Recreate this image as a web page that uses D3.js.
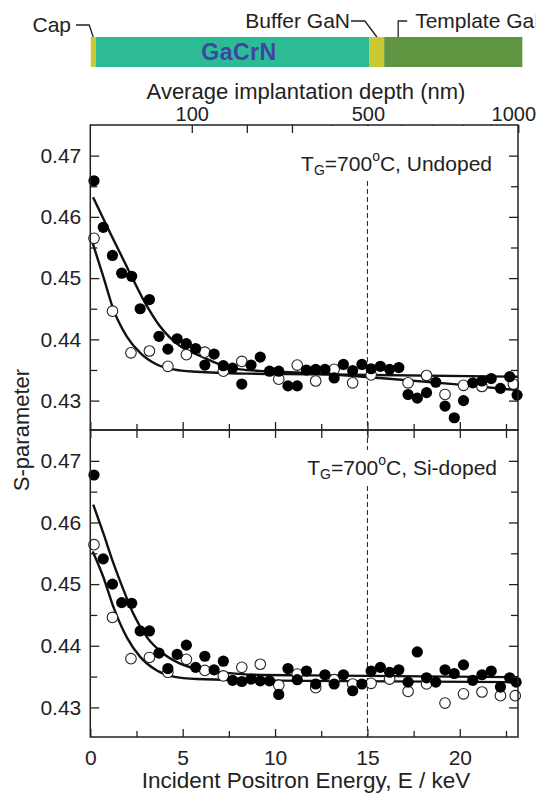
<!DOCTYPE html>
<html><head><meta charset="utf-8">
<script src="https://cdn.jsdelivr.net/npm/d3@7"></script>
<style>
html,body{margin:0;padding:0;background:#fff;}
svg{display:block;font-family:"Liberation Sans",Arial,sans-serif;}
</style></head><body>
<svg id="c" width="536" height="793"></svg>
<script>
// ---------------- data ----------------
const energyDomain = [0, 23.15];          // keV
const sDomain = [0.4252, 0.475];
const sTicks = [0.43, 0.44, 0.45, 0.46, 0.47];
const sMinorTicks = [0.435, 0.445, 0.455, 0.465];
const eTicks = [0, 5, 10, 15, 20];
const eMinorTicks = [2.5, 7.5, 12.5, 17.5, 22.5];
const depthTicks = [100, 200, 300, 400, 500, 600, 700, 800, 900, 1000];
const depthLabels = [100, 500, 1000];
const depthCoef = 6.55, depthExp = 1.6;   // z(nm) = coef * E^exp
const interfaceEnergy = 15;               // dashed line (keV)

const layerNames = ["Cap", "GaCrN", "Buffer GaN", "Template GaN"];
const layerDepths = [[0.02, 0.9], [0.9, 505], [505, 548], [548, 1015]]; // nm

const panelLabels = ["Undoped", "Si-doped"];

const undopedFilled = [[0.2,0.4659],[0.7,0.4583],[1.2,0.4537],[1.7,0.4508],[2.24,0.4503],[2.7,0.4450],[3.2,0.4465],[3.72,0.4405],[4.2,0.4384],[4.7,0.4401],[5.2,0.4393],[5.7,0.4385],[6.2,0.4358],[6.7,0.4376],[7.2,0.4357],[7.7,0.4353],[8.2,0.4327],[8.7,0.4358],[9.2,0.4371],[9.7,0.4348],[10.2,0.4348],[10.7,0.4324],[11.2,0.4324],[11.7,0.4350],[12.2,0.4351],[12.7,0.4351],[13.2,0.4337],[13.7,0.4359],[14.2,0.4349],[14.7,0.4359],[15.2,0.4352],[15.7,0.4356],[16.2,0.4351],[16.7,0.4354],[17.2,0.4310],[17.7,0.4304],[18.2,0.4313],[18.7,0.4330],[19.2,0.4291],[19.7,0.4272],[20.2,0.4300],[20.7,0.4329],[21.2,0.4332],[21.7,0.4336],[22.2,0.4320],[22.7,0.4339],[23.1,0.4309]];
const undopedOpen = [[0.2,0.4565],[1.2,0.4446],[2.2,0.4378],[3.2,0.4381],[4.2,0.4356],[5.2,0.4375],[6.2,0.4379],[7.2,0.4348],[8.2,0.4364],[10.2,0.4335],[11.2,0.4358],[12.2,0.4332],[13.2,0.4351],[14.2,0.4329],[15.2,0.4342],[17.2,0.4329],[18.2,0.4341],[19.2,0.4310],[20.2,0.4325],[21.2,0.4323],[22.9,0.4327]];
const siFilled = [[0.2,0.4677],[0.7,0.4541],[1.2,0.4500],[1.7,0.4470],[2.24,0.4469],[2.7,0.4424],[3.2,0.4424],[3.72,0.4388],[4.2,0.4363],[4.7,0.4386],[5.2,0.4401],[5.7,0.4365],[6.2,0.4383],[6.7,0.4361],[7.2,0.4375],[7.7,0.4344],[8.2,0.4342],[8.7,0.4346],[9.2,0.4343],[9.7,0.4343],[10.2,0.4321],[10.7,0.4363],[11.2,0.4345],[11.7,0.4359],[12.2,0.4338],[12.7,0.4353],[13.2,0.4338],[13.7,0.4353],[14.2,0.4327],[14.7,0.4338],[15.2,0.4359],[15.7,0.4365],[16.2,0.4357],[16.7,0.4361],[17.2,0.4341],[17.7,0.4390],[18.2,0.4348],[18.7,0.4341],[19.2,0.4361],[19.7,0.4355],[20.2,0.4369],[20.7,0.4344],[21.2,0.4353],[21.7,0.4359],[22.2,0.4333],[22.7,0.4348],[23.05,0.4341]];
const siOpen = [[0.2,0.4564],[1.2,0.4446],[2.2,0.4379],[3.2,0.4381],[4.2,0.4357],[5.2,0.4378],[6.2,0.4360],[7.2,0.4351],[8.2,0.4365],[9.2,0.4370],[10.2,0.4336],[11.2,0.4354],[12.2,0.4332],[13.2,0.4345],[14.2,0.4338],[15.2,0.4339],[16.2,0.4346],[17.2,0.4326],[18.2,0.4338],[19.2,0.4307],[20.2,0.4322],[21.2,0.4325],[22.2,0.4319],[23.0,0.4319]];

const undopedFilledFit = [[0.15,0.4632],[1.07,0.4574],[1.97,0.4519],[2.87,0.4465],[3.78,0.4421],[4.86,0.4389],[5.95,0.4373],[7.03,0.4359],[8.1,0.4351],[9.56,0.4348],[11.9,0.4345],[16,0.4336],[20,0.4326],[23.15,0.4317]];
const undopedOpenFit = [[0.13,0.4557],[0.7,0.4503],[1.25,0.4449],[1.97,0.4405],[2.7,0.4378],[3.6,0.4359],[4.5,0.4351],[5.77,0.4347],[8.48,0.4344],[11.9,0.4343],[23.15,0.4339]];
const siFilledFit = [[0.16,0.4629],[0.7,0.4583],[1.25,0.4534],[1.79,0.4491],[2.33,0.4452],[3.06,0.4414],[3.96,0.4387],[4.86,0.4371],[5.95,0.4361],[7.39,0.4356],[8.84,0.4353],[11.9,0.4352],[23.15,0.4349]];
const siOpenFit = [[0.13,0.4553],[0.7,0.4512],[1.25,0.4463],[1.97,0.4414],[2.7,0.4382],[3.6,0.4360],[4.5,0.4350],[5.77,0.4346],[8.48,0.4344],[11.9,0.4343],[23.15,0.4341]];

// ---------------- layout ----------------
const svg = d3.select("#c");
const X0 = 90.3, X1 = 518;
const panels = [
  {top:125, bottom:430, filled:undopedFilled, open:undopedOpen, fits:[undopedOpenFit, undopedFilledFit], label:panelLabels[0], labelX:492, labelY:171},
  {top:430, bottom:737, filled:siFilled, open:siOpen, fits:[siOpenFit, siFilledFit], label:panelLabels[1], labelX:497, labelY:475}
];
const x = d3.scaleLinear().domain(energyDomain).range([X0, X1]);
const xd = d3.scalePow().exponent(1/depthExp)
  .domain([0, depthCoef*Math.pow(energyDomain[1], depthExp)]).range([X0, X1]);

const FS = 21;
const axisColor = "#222";

function styleAxis(g){
  g.select(".domain").remove();
  g.selectAll("line").attr("stroke", axisColor).attr("stroke-width", 1.3);
  g.selectAll("text").attr("font-family", '"Liberation Sans",Arial,sans-serif')
    .attr("font-size", FS).attr("fill", "#222");
}

// ---------------- layer bar ----------------
const layerColors = ["#c9c934", "#2dbb95", "#c9c934", "#5f9441"];
const barTop = 37, barH = 30;
svg.append("g").selectAll("rect").data(layerDepths).join("rect")
  .attr("x", d => xd(d[0])).attr("width", d => xd(d[1]) - xd(d[0]))
  .attr("y", barTop).attr("height", barH)
  .attr("fill", (d,i) => layerColors[i]);

svg.append("text").attr("x", 239).attr("y", 60).attr("text-anchor", "middle")
  .attr("font-size", 23).attr("font-weight", "bold").attr("fill", "#3d45a6")
  .attr("letter-spacing", 0.5).text(layerNames[1]);

const lead = svg.append("g").attr("fill", "none").attr("stroke", "#222").attr("stroke-width", 1.3);
// Cap
const capX = (xd(layerDepths[0][0]) + xd(layerDepths[0][1]))/2;
svg.append("text").attr("x", 71).attr("y", 32).attr("text-anchor", "end").attr("font-size", FS).attr("fill","#222").text(layerNames[0]);
lead.append("path").attr("d", `M76,25H${capX-4}L${capX},${barTop}`);
// Buffer
const bufX = (xd(layerDepths[2][0]) + xd(layerDepths[2][1]))/2;
svg.append("text").attr("x", 350).attr("y", 28).attr("text-anchor", "end").attr("font-size", FS).attr("fill","#222").text(layerNames[2]);
lead.append("path").attr("d", `M351,21H${bufX-12}L${bufX},${barTop}`);
// Template
const tplX = xd(layerDepths[3][0]) + 14;
svg.append("text").attr("x", tplX + 17).attr("y", 28).attr("font-size", FS).attr("fill","#222").text(layerNames[3]);
lead.append("path").attr("d", `M${tplX},${barTop}V21H${tplX+9}`);

// ---------------- top depth axis ----------------
const topAxis = svg.append("g").attr("transform", `translate(0,${panels[0].top})`)
  .call(d3.axisTop(xd).tickValues(depthTicks).tickSize(-8).tickPadding(4)
    .tickFormat(d => depthLabels.includes(d) ? d : ""))
  .call(styleAxis);
topAxis.selectAll("text").attr("font-size", 20)
  .attr("dx", d => d === depthTicks[depthTicks.length-1] ? -5 : 0);
svg.append("text").attr("x", 306).attr("y", 99).attr("text-anchor", "middle")
  .attr("font-size", 22).attr("fill", "#222").text("Average implantation depth (nm)");

// ---------------- panels ----------------
const line = d3.line().curve(d3.curveMonotoneX);

panels.forEach((p, pi) => {
  const y = d3.scaleLinear().domain(sDomain).range([p.bottom, p.top]);
  const g = svg.append("g");

  // dashed interface line
  g.append("line").attr("x1", x(interfaceEnergy)).attr("x2", x(interfaceEnergy))
    .attr("y1", p.top).attr("y2", p.bottom)
    .attr("stroke", "#222").attr("stroke-width", 1).attr("stroke-dasharray", "5,3");

  // fit curves
  g.selectAll("path.fit").data(p.fits).join("path").attr("class", "fit")
    .attr("d", d => line(d.map(v => [x(v[0]), y(v[1])])))
    .attr("fill", "none").attr("stroke", "#111").attr("stroke-width", 2.4);

  // open circles
  g.selectAll("circle.open").data(p.open).join("circle").attr("class", "open")
    .attr("cx", d => x(d[0])).attr("cy", d => y(d[1])).attr("r", 5.3)
    .attr("fill", "#fff").attr("stroke", "#222").attr("stroke-width", 1.1);
  // filled circles
  g.selectAll("circle.filled").data(p.filled).join("circle").attr("class", "filled")
    .attr("cx", d => x(d[0])).attr("cy", d => y(d[1])).attr("r", 5.6)
    .attr("fill", "#000");

  // annotation
  const t = g.append("text").attr("x", p.labelX).attr("y", p.labelY)
    .attr("text-anchor", "end").attr("font-size", 21).attr("fill", "#222");
  t.append("tspan").text("T");
  t.append("tspan").attr("font-size", 14).attr("dy", 4).text("G");
  t.append("tspan").attr("dy", -4).text("=700");
  t.append("tspan").attr("font-size", 14).attr("dy", -10).text("o");
  t.append("tspan").attr("dy", 10).text("C, " + p.label);
  const bb = t.node().getBBox();
  const rTop = pi === 0 ? p.top + 1 : bb.y - 2;
  g.insert("rect", "text").attr("x", bb.x - 3).attr("y", rTop)
    .attr("width", bb.width + 6).attr("height", bb.y + bb.height + 2 - rTop).attr("fill", "#fff");

  // y axis left
  svg.append("g").attr("transform", `translate(${X0},0)`)
    .call(d3.axisLeft(y).tickValues(sTicks).tickSize(-9).tickPadding(9).tickFormat(d3.format(".2f")))
    .call(styleAxis);
  svg.append("g").attr("transform", `translate(${X0},0)`)
    .call(d3.axisLeft(y).tickValues(sMinorTicks).tickSize(-7).tickFormat(""))
    .call(styleAxis);
  // y axis right
  svg.append("g").attr("transform", `translate(${X1},0)`)
    .call(d3.axisRight(y).tickValues(sTicks).tickSize(-9).tickFormat(""))
    .call(styleAxis);
  svg.append("g").attr("transform", `translate(${X1},0)`)
    .call(d3.axisRight(y).tickValues(sMinorTicks).tickSize(-7).tickFormat(""))
    .call(styleAxis);

  // x ticks at bottom of panel (upward)
  svg.append("g").attr("transform", `translate(0,${p.bottom})`)
    .call(d3.axisBottom(x).tickValues(eTicks).tickSize(-8).tickPadding(13)
      .tickFormat(pi === 1 ? d3.format("d") : ""))
    .call(styleAxis);
  svg.append("g").attr("transform", `translate(0,${p.bottom})`)
    .call(d3.axisBottom(x).tickValues(eMinorTicks).tickSize(-6).tickFormat(""))
    .call(styleAxis);
  if (pi === 1) {
    svg.append("g").attr("transform", `translate(0,${p.top})`)
      .call(d3.axisTop(x).tickValues(eTicks.concat(eMinorTicks)).tickSize(-8).tickFormat(""))
      .call(styleAxis);
  }

  // frame
  svg.append("rect").attr("x", X0).attr("y", p.top).attr("width", X1 - X0).attr("height", p.bottom - p.top)
    .attr("fill", "none").attr("stroke", axisColor).attr("stroke-width", 1.5);
});

// axis titles
svg.append("text").attr("transform", "translate(29,430) rotate(-90)").attr("text-anchor", "middle")
  .attr("font-size", 22).attr("fill", "#222").text("S-parameter");
svg.append("text").attr("x", 306).attr("y", 788).attr("text-anchor", "middle")
  .attr("font-size", 22.5).attr("fill", "#222").text("Incident Positron Energy, E / keV");
</script>
</body></html>
